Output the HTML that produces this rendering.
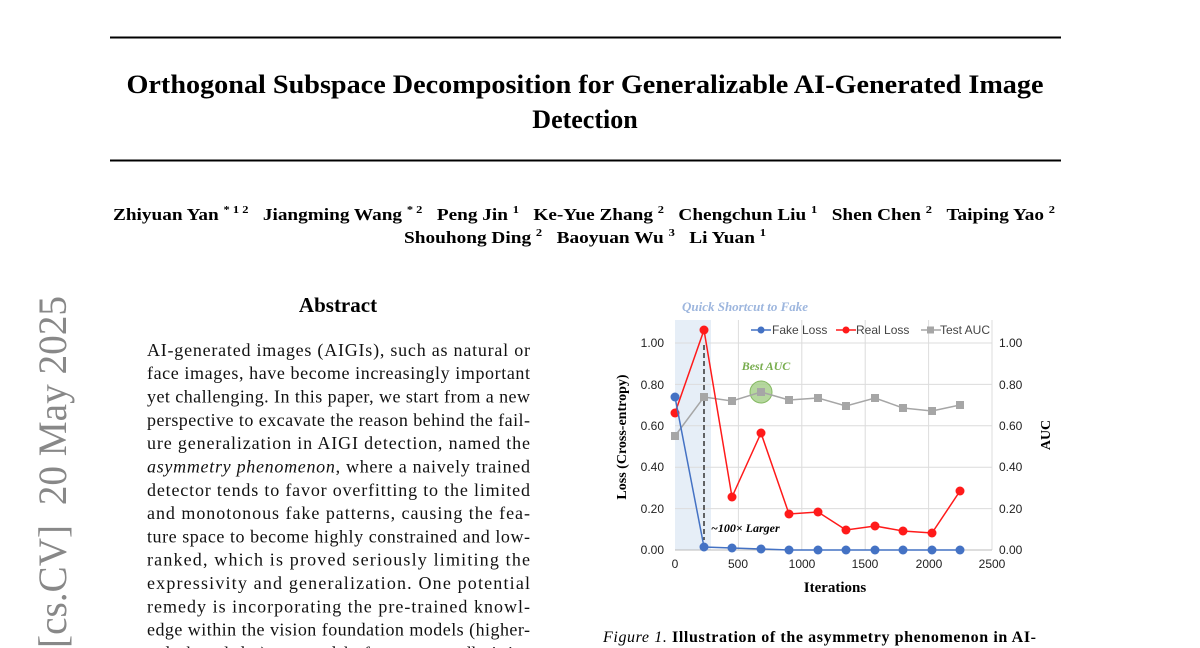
<!DOCTYPE html>
<html><head><meta charset="utf-8"><style>
html,body{margin:0;padding:0;background:#fff;width:1200px;height:648px;overflow:hidden}
svg{display:block}
.s{font-family:"Liberation Serif",serif}
.a{font-family:"Liberation Sans",sans-serif}
</style></head><body>
<svg width="1200" height="648" viewBox="0 0 1200 648" xmlns="http://www.w3.org/2000/svg">
<line x1="110" y1="37.5" x2="1061" y2="37.5" stroke="#000" stroke-width="2"/>
<line x1="110" y1="160.5" x2="1061" y2="160.5" stroke="#000" stroke-width="2"/>
<text class="s" x="585" y="93" font-size="26" font-weight="bold" text-anchor="middle" textLength="917" lengthAdjust="spacingAndGlyphs">Orthogonal Subspace Decomposition for Generalizable AI-Generated Image</text>
<text class="s" x="585" y="128" font-size="26" font-weight="bold" text-anchor="middle">Detection</text>
<g class="s" font-weight="bold" font-size="17">
<text x="113" y="220" textLength="942" lengthAdjust="spacingAndGlyphs">Zhiyuan Yan <tspan font-size="11" dy="-7">* 1 2</tspan><tspan dy="7">&#160;&#160;&#160;Jiangming Wang </tspan><tspan font-size="11" dy="-7">* 2</tspan><tspan dy="7">&#160;&#160;&#160;Peng Jin </tspan><tspan font-size="11" dy="-7">1</tspan><tspan dy="7">&#160;&#160;&#160;Ke-Yue Zhang </tspan><tspan font-size="11" dy="-7">2</tspan><tspan dy="7">&#160;&#160;&#160;Chengchun Liu </tspan><tspan font-size="11" dy="-7">1</tspan><tspan dy="7">&#160;&#160;&#160;Shen Chen </tspan><tspan font-size="11" dy="-7">2</tspan><tspan dy="7">&#160;&#160;&#160;Taiping Yao </tspan><tspan font-size="11" dy="-7">2</tspan></text>
<text x="404" y="243" textLength="362" lengthAdjust="spacingAndGlyphs">Shouhong Ding <tspan font-size="11" dy="-7">2</tspan><tspan dy="7">&#160;&#160;&#160;Baoyuan Wu </tspan><tspan font-size="11" dy="-7">3</tspan><tspan dy="7">&#160;&#160;&#160;Li Yuan </tspan><tspan font-size="11" dy="-7">1</tspan></text>
</g>
<text class="s" x="66" y="648" font-size="40" fill="#888" transform="rotate(-90 66 648)" textLength="352" lengthAdjust="spacingAndGlyphs">[cs.CV]&#160;&#160;20 May 2025</text>
<text class="s" x="338" y="312" font-size="21" font-weight="bold" text-anchor="middle">Abstract</text>
<g class="s" font-size="18" fill="#111">
<text x="147" y="356" textLength="383">AI-generated images (AIGIs), such as natural or</text>
<text x="147" y="379" textLength="383">face images, have become increasingly important</text>
<text x="147" y="402.6" textLength="383">yet challenging. In this paper, we start from a new</text>
<text x="147" y="426" textLength="383">perspective to excavate the reason behind the fail-</text>
<text x="147" y="449.2" textLength="383">ure generalization in AIGI detection, named the</text>
<text x="147" y="472.5" textLength="383"><tspan font-style="italic">asymmetry phenomenon</tspan>, where a naively trained</text>
<text x="147" y="495.8" textLength="383">detector tends to favor overfitting to the limited</text>
<text x="147" y="519" textLength="383">and monotonous fake patterns, causing the fea-</text>
<text x="147" y="542.4" textLength="383">ture space to become highly constrained and low-</text>
<text x="147" y="565.7" textLength="383">ranked, which is proved seriously limiting the</text>
<text x="147" y="589" textLength="383">expressivity and generalization.  One potential</text>
<text x="147" y="612.3" textLength="383">remedy is incorporating the pre-trained knowl-</text>
<text x="147" y="635.6" textLength="383">edge within the vision foundation models (higher-</text>
<text x="147" y="658.9" textLength="383">order knowledge) to expand the feature space, alleviating</text>
</g>
<!-- chart -->
<rect x="675" y="320" width="36" height="230" fill="#e6eef7"/>
<g stroke="#dcdcdc" stroke-width="1">
<line x1="675" y1="343" x2="992" y2="343"/><line x1="675" y1="384.4" x2="992" y2="384.4"/><line x1="675" y1="425.8" x2="992" y2="425.8"/><line x1="675" y1="467.2" x2="992" y2="467.2"/><line x1="675" y1="508.6" x2="992" y2="508.6"/>
<line x1="738.4" y1="320" x2="738.4" y2="550"/><line x1="801.8" y1="320" x2="801.8" y2="550"/><line x1="865.2" y1="320" x2="865.2" y2="550"/><line x1="928.6" y1="320" x2="928.6" y2="550"/><line x1="992" y1="320" x2="992" y2="550"/>
</g>
<line x1="675" y1="550" x2="992" y2="550" stroke="#bbb"/>
<g class="a" font-size="12" fill="#222">
<g text-anchor="end"><text x="664" y="554">0.00</text><text x="664" y="513">0.20</text><text x="664" y="471">0.40</text><text x="664" y="430">0.60</text><text x="664" y="389">0.80</text><text x="664" y="347">1.00</text></g>
<g><text x="999" y="554">0.00</text><text x="999" y="513">0.20</text><text x="999" y="471">0.40</text><text x="999" y="430">0.60</text><text x="999" y="389">0.80</text><text x="999" y="347">1.00</text></g>
<g text-anchor="middle"><text x="675" y="568">0</text><text x="738" y="568">500</text><text x="802" y="568">1000</text><text x="865" y="568">1500</text><text x="929" y="568">2000</text><text x="992" y="568">2500</text></g>
</g>
<text class="s" x="835" y="592" font-size="15" font-weight="bold" text-anchor="middle">Iterations</text>
<text class="s" x="626" y="437" font-size="14" font-weight="bold" text-anchor="middle" transform="rotate(-90 626 437)">Loss (Cross-entropy)</text>
<text class="s" x="1050" y="435" font-size="14" font-weight="bold" text-anchor="middle" transform="rotate(-90 1050 435)">AUC</text>
<text class="s" x="745" y="311" font-size="13" font-style="italic" font-weight="bold" fill="#9db6de" text-anchor="middle">Quick Shortcut to Fake</text>
<text class="s" x="766" y="370" font-size="12" font-style="italic" font-weight="bold" fill="#78ad4e" text-anchor="middle">Best AUC</text>
<circle cx="761" cy="392" r="11" fill="#a9d18e" stroke="#70ad47" opacity="0.85"/>
<line x1="704" y1="345" x2="704" y2="540" stroke="#333" stroke-width="1.5" stroke-dasharray="5,3"/>
<text class="s" x="711" y="532" font-size="12" font-style="italic" font-weight="bold">~100× Larger</text>
<polyline fill="none" stroke="#a6a6a6" stroke-width="1.5" points="675,436 704,397 732,401 761,392 789,400 818,398 846,406 875,398 903,408 932,411 960,405"/>
<g fill="#a6a6a6"><rect x="671" y="432" width="8" height="8"/><rect x="700" y="393" width="8" height="8"/><rect x="728" y="397" width="8" height="8"/><rect x="757" y="388" width="8" height="8"/><rect x="785" y="396" width="8" height="8"/><rect x="814" y="394" width="8" height="8"/><rect x="842" y="402" width="8" height="8"/><rect x="871" y="394" width="8" height="8"/><rect x="899" y="404" width="8" height="8"/><rect x="928" y="407" width="8" height="8"/><rect x="956" y="401" width="8" height="8"/></g>
<polyline fill="none" stroke="#ff1a1a" stroke-width="1.5" points="675,413 704,330 732,497 761,433 789,514 818,512 846,530 875,526 903,531 932,533 960,491"/>
<g fill="#ff1a1a"><circle cx="675" cy="413" r="4.5"/><circle cx="704" cy="330" r="4.5"/><circle cx="732" cy="497" r="4.5"/><circle cx="761" cy="433" r="4.5"/><circle cx="789" cy="514" r="4.5"/><circle cx="818" cy="512" r="4.5"/><circle cx="846" cy="530" r="4.5"/><circle cx="875" cy="526" r="4.5"/><circle cx="903" cy="531" r="4.5"/><circle cx="932" cy="533" r="4.5"/><circle cx="960" cy="491" r="4.5"/></g>
<polyline fill="none" stroke="#4472c4" stroke-width="1.5" points="675,397 704,547 732,548 761,549 789,550 818,550 846,550 875,550 903,550 932,550 960,550"/>
<g fill="#4472c4"><circle cx="675" cy="397" r="4.5"/><circle cx="704" cy="547" r="4.5"/><circle cx="732" cy="548" r="4.5"/><circle cx="761" cy="549" r="4.5"/><circle cx="789" cy="550" r="4.5"/><circle cx="818" cy="550" r="4.5"/><circle cx="846" cy="550" r="4.5"/><circle cx="875" cy="550" r="4.5"/><circle cx="903" cy="550" r="4.5"/><circle cx="932" cy="550" r="4.5"/><circle cx="960" cy="550" r="4.5"/></g>
<g class="a" font-size="12" fill="#444">
<line x1="751" y1="330" x2="771" y2="330" stroke="#4472c4" stroke-width="1.5"/><circle cx="761" cy="330" r="3.5" fill="#4472c4"/><text x="772" y="334">Fake Loss</text>
<line x1="836" y1="330" x2="856" y2="330" stroke="#ff1a1a" stroke-width="1.5"/><circle cx="846" cy="330" r="3.5" fill="#ff1a1a"/><text x="856" y="334">Real Loss</text>
<line x1="921" y1="330" x2="941" y2="330" stroke="#a6a6a6" stroke-width="1.5"/><rect x="927" y="326.5" width="7" height="7" fill="#a6a6a6"/><text x="940" y="334">Test AUC</text>
</g>
<text class="s" x="603" y="642" font-size="16" textLength="433"><tspan font-style="italic">Figure 1.</tspan> <tspan font-weight="bold">Illustration of the asymmetry phenomenon in AI-</tspan></text>
</svg>
</body></html>
